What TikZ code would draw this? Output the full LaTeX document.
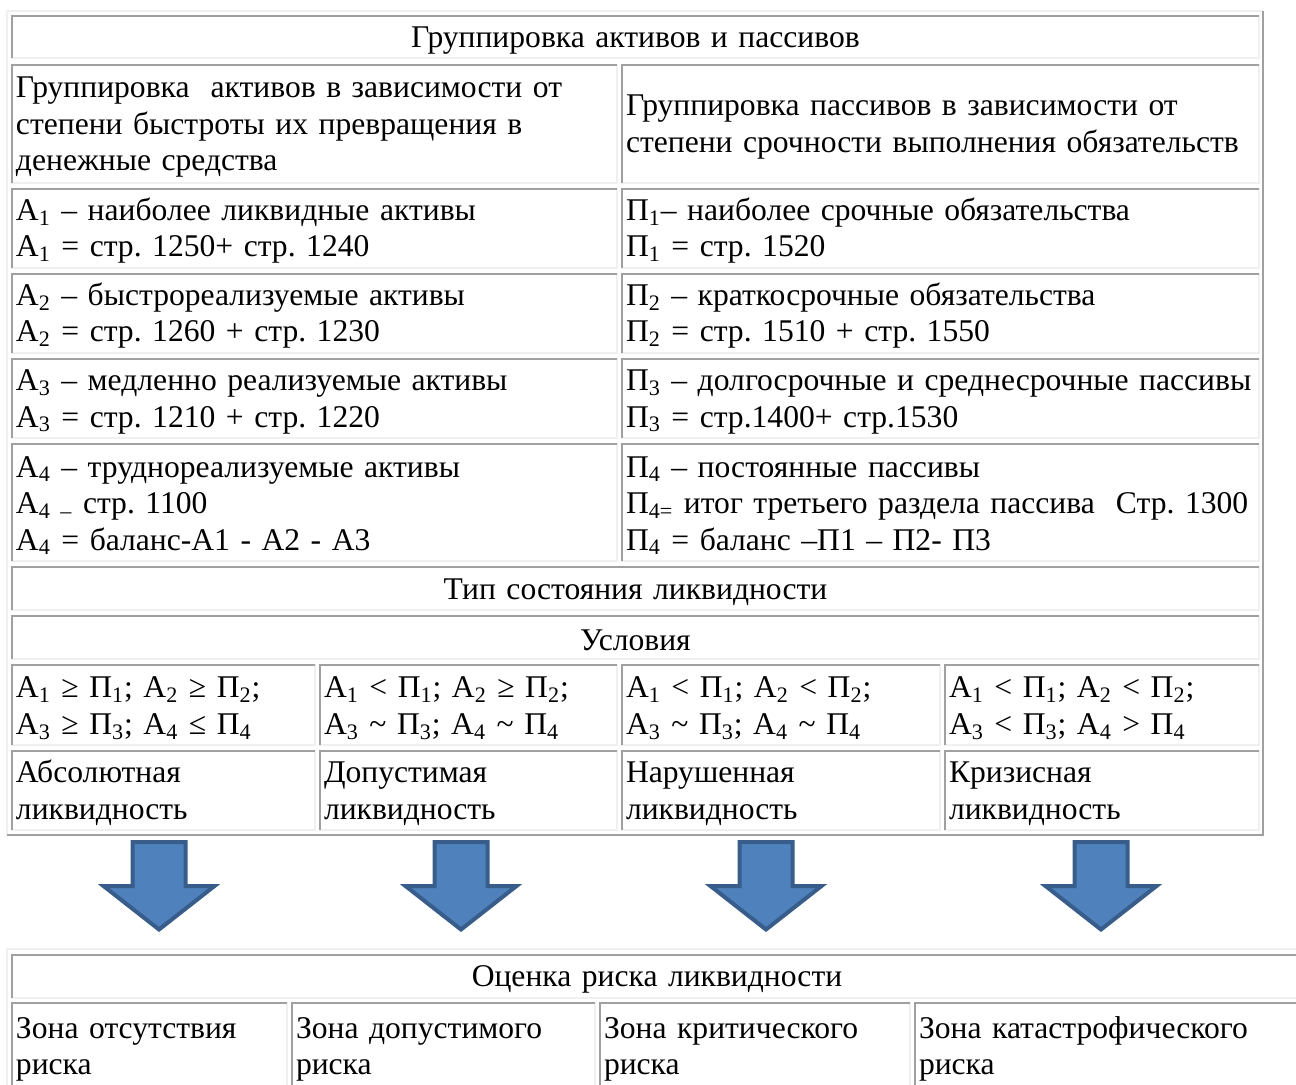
\documentclass[tikz,border=0pt]{standalone}
\usepackage{fontspec}
\setmainfont{Liberation Serif}
\frenchspacing
\usetikzlibrary{positioning}
\definecolor{celldark}{HTML}{A0A0A0}
\definecolor{celllight}{HTML}{F0F0F0}
\definecolor{arrowfill}{HTML}{4F81BD}
\definecolor{arrowline}{HTML}{385D8A}
\newcommand*{\blockarrowdown}[1]{% centre x of the arrow
		\draw [blockarrow] (#1-26.5,842) -- (#1+26.5,842) -- (#1+26.5,886) -- (#1+55.5,886)
			-- (#1,929.5) -- (#1-55.5,886) -- (#1-26.5,886) -- cycle;
}
\tikzset{cell/.style={draw=celllight, line width=1pt, anchor=north west, outer sep=0pt,
	inner xsep=2pt, inner ysep=0pt, align=left, font=\fontsize{15.8}{18.25}\selectfont,
	execute at begin node={\rule{0pt}{13.6pt}}}}
\tikzset{cellw/.style={minimum width=#1*0.5pt,
	/utils/exec={\pgfmathsetlengthmacro\celltextwidth{#1*0.5pt-4pt}}, text width=\celltextwidth}}
\tikzset{cellh/.style={minimum height=#1*0.5pt}}
\tikzset{titlecell/.style={cell, align=center}}
\tikzset{celledge/.style={draw=celldark, line width=1pt}}
\tikzset{frameedge/.style={line width=1pt}}
\tikzset{blockarrow/.style={fill=arrowfill, draw=arrowline, line width=2pt, line join=miter}}

\begin{document}
\begin{tikzpicture}[x=0.5pt, y=-0.5pt]
			\useasboundingbox (0,0) rectangle (1296,1084);
			\clip (0,0) rectangle (1296,1084);
			% table of assets and liabilities
			\draw [frameedge, celllight] (6.5,834.5) |- (1262.5,10.5);
			\draw [frameedge, celldark] (6.5,834.5) -| (1262.5,10.5);
			\node [titlecell, cellw=1247, cellh=42] (grouping) at (12,16) {Группировка активов и пассивов};
			\node [cell, cellw=605, cellh=118] (assetsgrp) at (12,65) {Группировка\ \ активов в зависимости от\\степени быстроты их превращения в\\денежные средства};
			\node [cell, cellw=637, cellh=118] (liabgrp) at (622,65) {Группировка пассивов в зависимости от\\степени срочности выполнения обязательств};
			\node [cell, cellw=605, cellh=79] (a1) at (12,189) {А\textsubscript{1} – наиболее ликвидные активы\\А\textsubscript{1} = стр. 1250+ стр. 1240};
			\node [cell, cellw=637, cellh=79] (p1) at (622,189) {П\textsubscript{1}– наиболее срочные обязательства\\П\textsubscript{1} = стр. 1520};
			\node [cell, cellw=605, cellh=79] (a2) at (12,274) {А\textsubscript{2} – быстрореализуемые активы\\А\textsubscript{2} = стр. 1260 + стр. 1230};
			\node [cell, cellw=637, cellh=79] (p2) at (622,274) {П\textsubscript{2} – краткосрочные обязательства\\П\textsubscript{2} = стр. 1510 + стр. 1550};
			\node [cell, cellw=605, cellh=79] (a3) at (12,359) {А\textsubscript{3} – медленно реализуемые активы\\А\textsubscript{3} = стр. 1210 + стр. 1220};
			\node [cell, cellw=637, cellh=79] (p3) at (622,359) {П\textsubscript{3} – долгосрочные и среднесрочные пассивы\\П\textsubscript{3} = стр.1400+ стр.1530};
			\node [cell, cellw=605, cellh=117] (a4) at (12,444) {А\textsubscript{4} – труднореализуемые активы\\А\textsubscript{4 –} стр. 1100\\А\textsubscript{4} = баланс-А1 - А2 - А3};
			\node [cell, cellw=637, cellh=117] (p4) at (622,444) {П\textsubscript{4} – постоянные пассивы\\П\textsubscript{4=} итог третьего раздела пассива\ \ Стр. 1300\\П\textsubscript{4} = баланс –П1 – П2- П3};
			\node [titlecell, cellw=1247, cellh=43] (statetype) at (12,567) {Тип состояния ликвидности};
			\node [titlecell, cellw=1247, cellh=43] (conditions) at (12,616) {Условия};
			\node [cell, cellw=303, cellh=80] (cond1) at (12,665) {А\textsubscript{1} ≥ Π\textsubscript{1}; А\textsubscript{2} ≥ Π\textsubscript{2};\\А\textsubscript{3} ≥ Π\textsubscript{3}; А\textsubscript{4} ≤ Π\textsubscript{4}};
			\node [cell, cellw=297, cellh=80] (cond2) at (320,665) {А\textsubscript{1} < Π\textsubscript{1}; А\textsubscript{2} ≥ Π\textsubscript{2};\\А\textsubscript{3} \textasciitilde{} Π\textsubscript{3}; А\textsubscript{4} \textasciitilde{} Π\textsubscript{4}};
			\node [cell, cellw=318, cellh=80] (cond3) at (622,665) {А\textsubscript{1} < Π\textsubscript{1}; А\textsubscript{2} < Π\textsubscript{2};\\А\textsubscript{3} \textasciitilde{} Π\textsubscript{3}; А\textsubscript{4} \textasciitilde{} Π\textsubscript{4}};
			\node [cell, cellw=314, cellh=80] (cond4) at (945,665) {А\textsubscript{1} < Π\textsubscript{1}; А\textsubscript{2} < Π\textsubscript{2};\\А\textsubscript{3} < Π\textsubscript{3}; А\textsubscript{4} > Π\textsubscript{4}};
			\node [cell, cellw=303, cellh=79] (liq1) at (12,751) {Абсолютная\\ликвидность};
			\node [cell, cellw=297, cellh=79] (liq2) at (320,751) {Допустимая\\ликвидность};
			\node [cell, cellw=318, cellh=79] (liq3) at (622,751) {Нарушенная\\ликвидность};
			\node [cell, cellw=314, cellh=79] (liq4) at (945,751) {Кризисная\\ликвидность};
			% arrows
			\foreach \x in {159,461,766,1101}
				\blockarrowdown{\x}
			% table of risk zones
			\draw [frameedge, celllight] (6.5,1100) |- (1310,948.5);
			\node [titlecell, cellw=1290, cellh=43] (riskeval) at (12,955) {Оценка риска ликвидности};
			\node [cell, cellw=275, cellh=86] (zone1) at (12,1003) {Зона отсутствия\\риска};
			\node [cell, cellw=303, cellh=86] (zone2) at (292,1003) {Зона допустимого\\риска};
			\node [cell, cellw=310, cellh=86] (zone3) at (600,1003) {Зона критического\\риска};
			\node [cell, cellw=387, cellh=86] (zone4) at (915,1003) {Зона катастрофического\\риска};
			% dark top and left edges of the cells
			\foreach \c in {grouping,assetsgrp,liabgrp,a1,p1,a2,p2,a3,p3,a4,p4,statetype,conditions,
				cond1,cond2,cond3,cond4,liq1,liq2,liq3,liq4,riskeval,zone1,zone2,zone3,zone4}
				\draw [celledge] (\c.south west) |- (\c.north east);
		\end{tikzpicture}
\end{document}
